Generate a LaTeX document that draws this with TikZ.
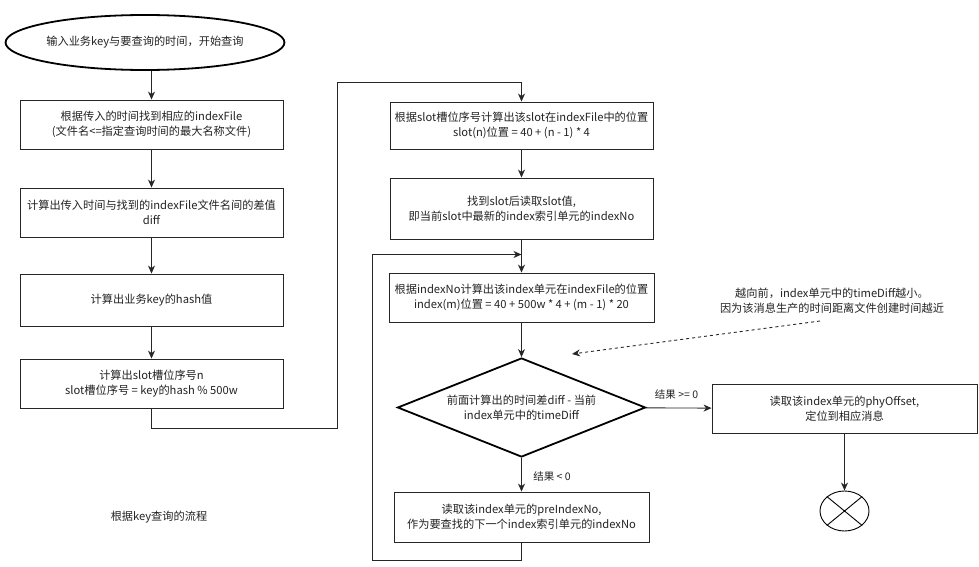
\documentclass[tikz,border=0pt]{standalone}
\usepackage{fontspec}
\setmainfont{Noto Sans CJK SC}
\usetikzlibrary{shapes.geometric,arrows.meta}
\definecolor{txt}{HTML}{222222}
\begin{document}
\begin{tikzpicture}[x=1pt,y=-1pt,
  every node/.style={font=\fontsize{11.2}{15}\selectfont, text=txt, align=center},
  proc/.style={draw=black!85, line width=0.9pt, rectangle, minimum width=263pt, inner sep=1pt},
  arr/.style={draw=black!85, line width=0.9pt, -{Stealth[length=8pt,width=7pt,inset=2.5pt]}},
  lbl/.style={font=\fontsize{10.5}{13}\selectfont}
]
\useasboundingbox (0,0) rectangle (979,567);

\node[ellipse, draw=black, line width=1.8pt, minimum width=256pt, minimum height=55pt, inner sep=0pt] (start) at (145,42.5) {输入业务key与要查询的时间，开始查询};

\node[proc, minimum height=49pt] (b1) at (151.5,124.5) {根据传入的时间找到相应的indexFile\\(文件名<=指定查询时间的最大名称文件)};
\node[proc, minimum height=49pt] (b2) at (151.5,212.5) {计算出传入时间与找到的indexFile文件名间的差值\\diff};
\node[proc, minimum height=52pt] (b3) at (151.5,300) {计算出业务key的hash值};
\node[proc, minimum height=49pt] (b4) at (151.5,383.5) {计算出slot槽位序号n\\slot槽位序号 = key的hash \% 500w};

\node[proc, minimum height=47pt] (b5) at (521.5,125.5) {根据slot槽位序号计算出该slot在indexFile中的位置\\slot(n)位置 = 40 + (n - 1) * 4};
\node[proc, minimum height=61pt] (b6) at (521.5,208.5) {找到slot后读取slot值,\\即当前slot中最新的index索引单元的indexNo};
\node[proc, minimum height=49pt, minimum width=265pt] (b7) at (521.5,297.5) {根据indexNo计算出该index单元在indexFile的位置\\index(m)位置 = 40 + 500w * 4 + (m - 1) * 20};

\node[diamond, draw=black, line width=1.8pt, shape aspect=2.5, minimum width=248pt, minimum height=99pt, inner sep=0pt] (dia) at (521.5,407.5) {前面计算出的时间差diff - 当前\\index单元中的timeDiff};

\node[proc, minimum height=50pt, minimum width=255pt] (b8) at (521.5,517) {读取该index单元的preIndexNo,\\作为要查找的下一个index索引单元的indexNo};

\node[proc, minimum height=49pt, minimum width=265pt] (b9) at (844.5,408.5) {读取该index单元的phyOffset,\\定位到相应消息};

\node[ellipse, draw=black, line width=0.9pt, minimum width=49pt, minimum height=40pt, inner sep=0pt] (endx) at (844.5,511) {};
\draw[line width=0.9pt] (endx.north west) -- (endx.south east) (endx.north east) -- (endx.south west);

\node (note) at (832,300.5) {越向前，index单元中的timeDiff越小。\\因为该消息生产的时间距离文件创建时间越近};
\node (cap) at (159,517) {根据key查询的流程};

% connectors
\draw[arr] (start.south -| b1) -- (b1);
\draw[arr] (b1) -- (b2);
\draw[arr] (b2) -- (b3);
\draw[arr] (b3) -- (b4);

\coordinate (l1) at (337,428);
\coordinate (l2) at (337,82);
\draw[arr] (b4.south) |- (l1) -- (l2) -| (b5.north);

\draw[arr] (b5) -- (b6);
\draw[arr] (b6) -- (b7);
\draw[arr] (b7) -- (dia);
\draw[arr] (dia) -- node[lbl, right, xshift=8pt, yshift=-2pt] {结果 < 0} (b8);
\draw[arr] (dia) -- node[lbl, above, xshift=-2pt, yshift=5pt] {结果 >= 0} (b9);
\draw[arr] (b9) -- (endx);

\coordinate (lp) at (372,560);
\coordinate (jn) at (521.5,254.5);
\draw[arr] (b8.south) |- (lp) |- (jn);

\coordinate (ds) at (820,321);
\coordinate (de) at (572,354);
\draw[arr, dashed] (ds) -- (de);
\end{tikzpicture}
\end{document}
